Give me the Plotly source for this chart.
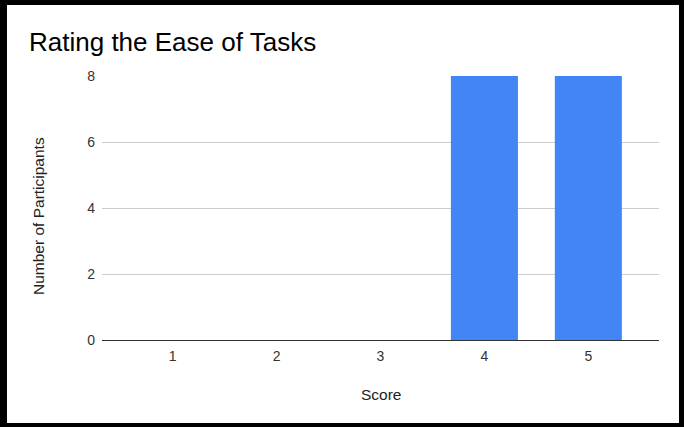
import plotly.graph_objects as go

# Ratings data
scores = [1, 2, 3, 4, 5]
participants = [0, 0, 0, 8, 8]
y_ticks = [0, 2, 4, 6, 8]

W, H = 684, 427
L, R, T, B = 102, 25, 76, 87  # plot margins in px
pw, ph = W - L - R, H - T - B


def px_x(px):
    return (px - L) / pw


def px_y(py):
    return (H - B - py) / ph


fig = go.Figure(
    go.Bar(
        x=scores,
        y=participants,
        marker=dict(color="#4285F4", line=dict(width=0)),
        width=0.645,
    )
)

font = "Liberation Sans, Arial, sans-serif"

# black frame around the whole chart
frame = [
    (0, 0, 7, H),
    (0, 0, W, 5),
    (W - 5, 0, W, H),
    (0, H - 4, W, H),
]
shapes = [
    dict(type="rect", xref="paper", yref="paper",
         x0=px_x(x0), x1=px_x(x1), y0=px_y(y1), y1=px_y(y0),
         fillcolor="black", line=dict(width=0), layer="above")
    for x0, y0, x1, y1 in frame
]

annotations = [
    dict(text="Number of Participants", xref="paper", yref="paper",
         x=px_x(38), y=px_y(216), textangle=-90, showarrow=False,
         xanchor="center", yanchor="middle",
         font=dict(size=15.5, color="#222222", family=font)),
    dict(text="Score", xref="paper", yref="paper",
         x=px_x(381), y=px_y(394), showarrow=False,
         xanchor="center", yanchor="middle",
         font=dict(size=15.5, color="#222222", family=font)),
]

fig.update_layout(
    width=W, height=H,
    margin=dict(l=L, r=R, t=T, b=B),
    paper_bgcolor="white", plot_bgcolor="white",
    font=dict(family=font, color="#333333", size=14),
    title=dict(text="Rating the Ease of Tasks", xref="container", yref="container",
               x=29 / W, xanchor="left", y=1 - 42 / H, yanchor="middle",
               font=dict(size=26, color="#000000", family=font)),
    showlegend=False,
    shapes=shapes,
    annotations=annotations,
    xaxis=dict(range=[0.32, 5.68], tickvals=scores, showgrid=False, zeroline=False,
               showline=True, linecolor="#333333", linewidth=1, ticks="",
               ticklabelstandoff=3,
               tickfont=dict(size=14, color="#333333")),
    yaxis=dict(range=[0, 8], tickvals=y_ticks, showgrid=True, gridcolor="#cccccc",
               zeroline=False, showline=False, ticks="", ticklabelstandoff=6,
               tickfont=dict(size=14, color="#333333")),
)

fig.write_html("out.html")
